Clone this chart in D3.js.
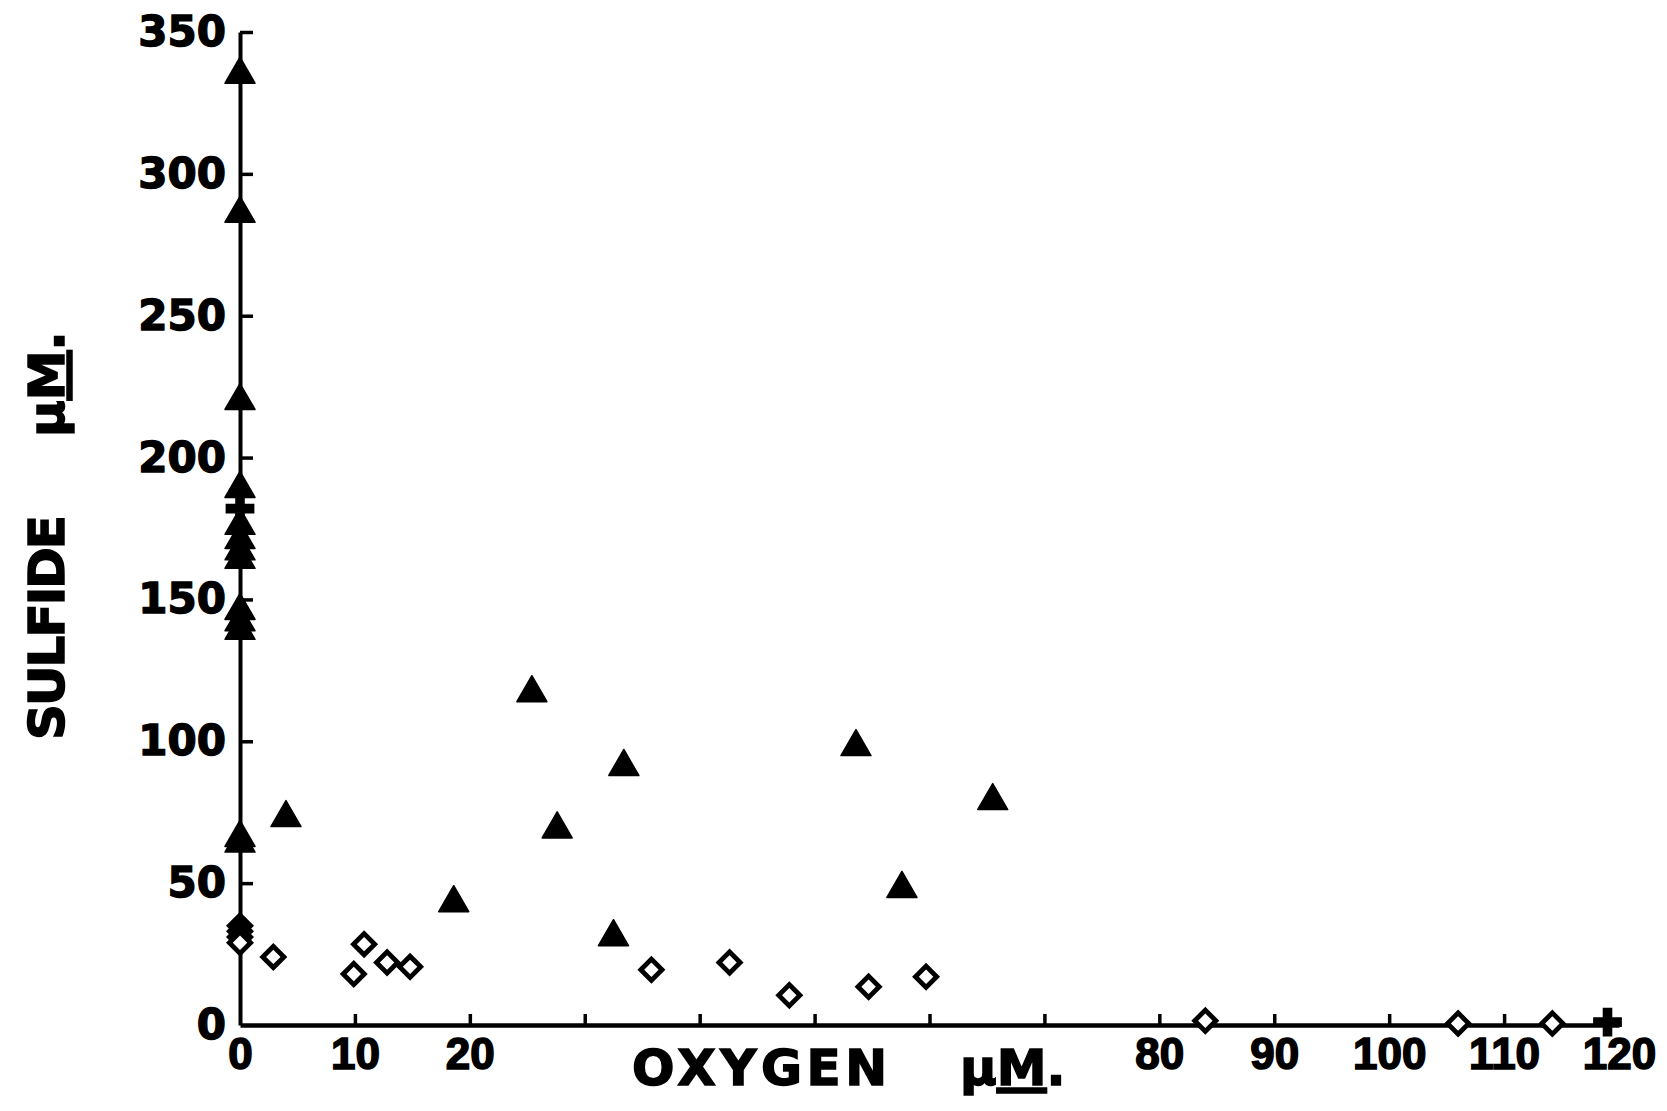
<!DOCTYPE html>
<html>
<head>
<meta charset="utf-8">
<script src="https://cdn.jsdelivr.net/npm/d3@7"></script>
<style>
  html, body { margin: 0; padding: 0; background: #fff; }
  svg { display: block; }
</style>
</head>
<body>
<svg id="chart" width="1667" height="1111"></svg>
<script>
// Sulfide vs. oxygen concentration (µM)

// Filled triangles: [oxygen, sulfide]
const triangleOxygen  = [0, 0, 0, 0, 0, 0, 0, 0, 0, 0, 0, 0, 0, 4, 18.6, 25.4, 27.6, 32.5, 33.4, 53.6, 57.6, 65.5];
const triangleSulfide = [335, 286, 220, 189, 176, 171, 167, 164, 146, 142, 139, 66, 64, 73, 43, 117, 69, 31, 91, 98, 48, 79];

// Open diamonds: [oxygen, sulfide]
const diamondOxygen  = [0, 0, 0, 0, 2.9, 9.9, 10.8, 12.8, 14.8, 35.8, 42.6, 47.8, 54.7, 59.7, 84, 106, 114.2];
const diamondSulfide = [35, 33, 31, 29, 24, 18, 28.5, 22, 20.5, 19.5, 22, 10.5, 13.5, 17, 1.5, 0.5, 0.5];

// Crosses: [oxygen, sulfide]
const crossOxygen  = [0, 119];
const crossSulfide = [182, 1];

// Axis ticks and their labels
const xTickValues = [0, 10, 20, 30, 40, 50, 60, 70, 80, 90, 100, 110, 120];
const xTickLabels = ["0", "10", "20", "", "", "", "", "", "80", "90", "100", "110", "120"];
const yTickValues = [0, 50, 100, 150, 200, 250, 300, 350];
const yTickLabels = ["0", "50", "100", "150", "200", "250", "300", "350"];

const svg = d3.select("#chart");

const x = d3.scaleLinear().domain([0, 120]).range([240, 1619]);
const y = d3.scaleLinear().domain([0, 350]).range([1025, 32]);

const triangles = triangleOxygen.map((o, i) => ({ o, s: triangleSulfide[i] }));
const diamonds = diamondOxygen.map((o, i) => ({ o, s: diamondSulfide[i] }));
const crosses = crossOxygen.map((o, i) => ({ o, s: crossSulfide[i] }));

// X axis: short ticks pointing up, labels below
const xAxis = d3.axisBottom(x)
  .tickValues(xTickValues)
  .tickFormat((d, i) => xTickLabels[i])
  .tickSizeInner(-11)
  .tickSizeOuter(0)
  .tickPadding(13);

const gx = svg.append("g")
  .attr("transform", `translate(0,${y(0)})`)
  .call(xAxis);
gx.select(".domain").attr("stroke", "#000").attr("stroke-width", 4.5);
gx.selectAll(".tick line").attr("stroke", "#000").attr("stroke-width", 3.5)
  .filter(d => d === 0 || d === 120).remove();
gx.selectAll(".tick text")
  .attr("fill", "#000")
  .attr("stroke", "#000")
  .attr("stroke-width", 1.6)
  .style("font-family", "'Liberation Sans', Arial, sans-serif")
  .style("font-weight", "bold")
  .style("font-size", "44px");

// Y axis: short ticks pointing right, labels to the left
const yAxis = d3.axisLeft(y)
  .tickValues(yTickValues)
  .tickFormat((d, i) => yTickLabels[i])
  .tickSizeInner(-13)
  .tickSizeOuter(0)
  .tickPadding(14);

const gy = svg.append("g")
  .attr("transform", `translate(${x(0)},0)`)
  .call(yAxis);
gy.select(".domain").attr("stroke", "#000").attr("stroke-width", 4);
gy.selectAll(".tick line").attr("stroke", "#000").attr("stroke-width", 3.5)
  .filter(d => d === 0).remove();
gy.selectAll(".tick text")
  .attr("fill", "#000")
  .attr("stroke", "#000")
  .attr("stroke-width", 1.4)
  .style("font-family", "'DejaVu Sans', sans-serif")
  .style("font-weight", "bold")
  .style("font-size", "42px");

// Markers
const marks = svg.append("g");

marks.selectAll(".diamond")
  .data(diamonds)
  .join("path")
  .attr("class", "diamond")
  .attr("d", d3.symbol().type(d3.symbolSquare).size(225))
  .attr("transform", d => `translate(${x(d.o)},${y(d.s)}) rotate(45)`)
  .attr("fill", "#fff")
  .attr("stroke", "#000")
  .attr("stroke-width", 4.8);

marks.selectAll(".triangle")
  .data(triangles)
  .join("path")
  .attr("class", "triangle")
  .attr("d", d3.symbol().type(d3.symbolTriangle).size(390))
  .attr("transform", d => `translate(${x(d.o)},${y(d.s)})`)
  .attr("fill", "#000")
  .attr("stroke", "#000")
  .attr("stroke-width", 1.5)
  .attr("stroke-linejoin", "round");

marks.selectAll(".cross")
  .data(crosses)
  .join("path")
  .attr("class", "cross")
  .attr("d", d3.symbol().type(d3.symbolCross).size(460))
  .attr("transform", d => `translate(${x(d.o)},${y(d.s)})`)
  .attr("fill", "#000");

// Axis titles
const titleFont = "'DejaVu Sans', sans-serif";

svg.append("text")
  .attr("x", 632)
  .attr("y", 1085)
  .attr("stroke", "#000")
  .attr("stroke-width", 1.5)
  .style("font-family", titleFont)
  .style("font-weight", "bold")
  .style("font-size", "50px")
  .style("letter-spacing", "4.5px")
  .text("OXYGEN");

const xUnit = svg.append("text")
  .attr("x", 960)
  .attr("y", 1085)
  .attr("stroke", "#000")
  .attr("stroke-width", 1.5)
  .style("font-family", titleFont)
  .style("font-weight", "bold")
  .style("font-size", "50px");
xUnit.append("tspan").text("µ");
xUnit.append("tspan").style("text-decoration", "underline").text("M");
xUnit.append("tspan").text(".");

const yTitle = svg.append("g").attr("transform", "translate(64,0) rotate(-90)");
yTitle.append("text")
  .attr("x", -740)
  .attr("y", 0)
  .attr("stroke", "#000")
  .attr("stroke-width", 1.5)
  .style("font-family", titleFont)
  .style("font-weight", "bold")
  .style("font-size", "50px")
  .style("letter-spacing", "-2px")
  .text("SULFIDE");

const yUnit = yTitle.append("text")
  .attr("x", -437)
  .attr("y", 0)
  .attr("stroke", "#000")
  .attr("stroke-width", 1.5)
  .style("font-family", titleFont)
  .style("font-weight", "bold")
  .style("font-size", "50px");
yUnit.append("tspan").text("µ");
yUnit.append("tspan").style("text-decoration", "underline").text("M");
yUnit.append("tspan").text(".");
</script>
</body>
</html>
